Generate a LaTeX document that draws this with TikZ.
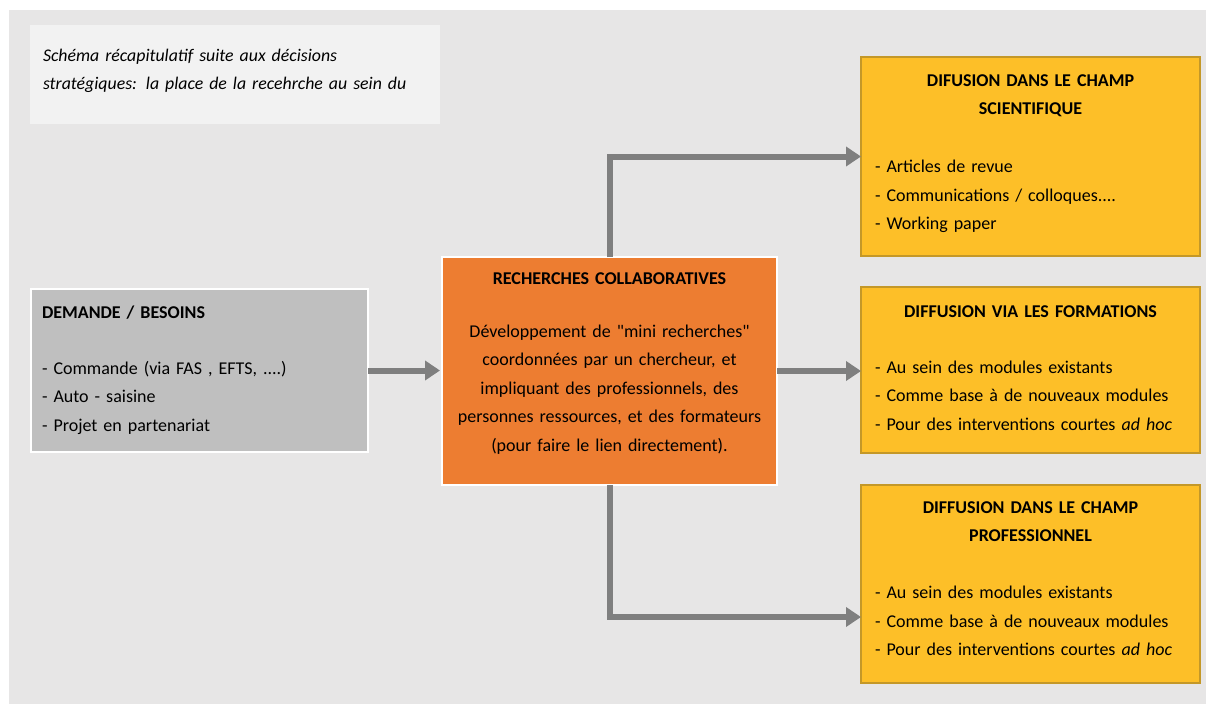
\documentclass[tikz,border=0pt]{standalone}
\usepackage{fontspec}
\setmainfont{Carlito}
\usetikzlibrary{arrows.meta}
\definecolor{bg}{HTML}{E7E6E6}
\definecolor{titlefill}{HTML}{F2F2F2}
\definecolor{demfill}{HTML}{BFBFBF}
\definecolor{orangefill}{HTML}{ED7D31}
\definecolor{goldfill}{RGB}{253,191,40}
\definecolor{goldline}{RGB}{196,152,40}
\definecolor{arrowgray}{HTML}{7F7F7F}
\begin{document}
\begin{tikzpicture}[x=1pt,y=-1pt,
  box/.style={rectangle, anchor=north west, outer sep=0pt, inner ysep=0pt,
    font=\fontsize{18}{28.5}\selectfont, text=black},
  greybox/.style={box, fill=demfill, draw=white, line width=2pt, align=left},
  orangebox/.style={box, fill=orangefill, draw=white, line width=2pt, align=center},
  goldbox/.style={box, fill=goldfill, draw=goldline, line width=1.3pt, align=left,
    inner xsep=14pt, text width=311pt},
  arr/.style={draw=arrowgray, line width=6pt, -{Triangle[length=15pt,width=19pt]}}
]
\useasboundingbox (0,0) rectangle (1206,704);
\fill[white] (0,0) rectangle (1206,704);
\fill[bg] (9,10) rectangle (1206,704);

\node[box, fill=titlefill, align=left, inner xsep=13pt, text width=384pt,
  text height=36pt, text depth=63pt] (title) at (30,25)
  {\itshape\fontsize{17.8}{27}\selectfont Schéma récapitulatif suite aux décisions\\
   stratégiques: la place de la recehrche au sein du};

\node[greybox, inner xsep=11pt, text width=315pt, text height=29pt, text depth=134pt]
  (demand) at (31,289)
  {\textbf{DEMANDE / BESOINS}\\[27.5pt]
   - Commande (via FAS , EFTS, ....)\\
   - Auto - saisine\\
   - Projet en partenariat};

\node[orangebox, inner xsep=8pt, text width=319pt, text height=27pt, text depth=201pt]
  (center) at (442,257)
  {\textbf{RECHERCHES COLLABORATIVES}\\[24.5pt]
   Développement de \textquotedbl mini recherches\textquotedbl\\
   coordonnées par un chercheur, et\\
   impliquant des professionnels, des\\
   personnes ressources, et des formateurs\\
   (pour faire le lien directement).};

\node[goldbox, text height=29pt, text depth=170pt] (box1) at (861,57)
  {{\centering\bfseries DIFUSION DANS LE CHAMP\\ SCIENTIFIQUE\par}\vspace{29.5pt}
   - Articles de revue\\
   - Communications / colloques....\\
   - Working paper};

\node[goldbox, text height=30pt, text depth=136pt] (box2) at (861,287)
  {{\centering\bfseries DIFFUSION VIA LES FORMATIONS\par}\vspace{27.5pt}
   - Au sein des modules existants\\
   - Comme base à de nouveaux modules\\
   - Pour des interventions courtes \textit{ad hoc}};

\node[goldbox, text height=28pt, text depth=170pt] (box3) at (861,485)
  {{\centering\bfseries DIFFUSION DANS LE CHAMP\\ PROFESSIONNEL\par}\vspace{28.5pt}
   - Au sein des modules existants\\
   - Comme base à de nouveaux modules\\
   - Pour des interventions courtes \textit{ad hoc}};

\draw[arr, shorten >=2pt] (demand.east) -- (demand.east -| center.west);
\draw[arr] (center.east) -- (center.east -| box2.west);
\draw[arr] (center.north) |- (box1.west);
\draw[arr] (center.south) |- ([yshift=-33pt]box3.west);
\end{tikzpicture}
\end{document}
